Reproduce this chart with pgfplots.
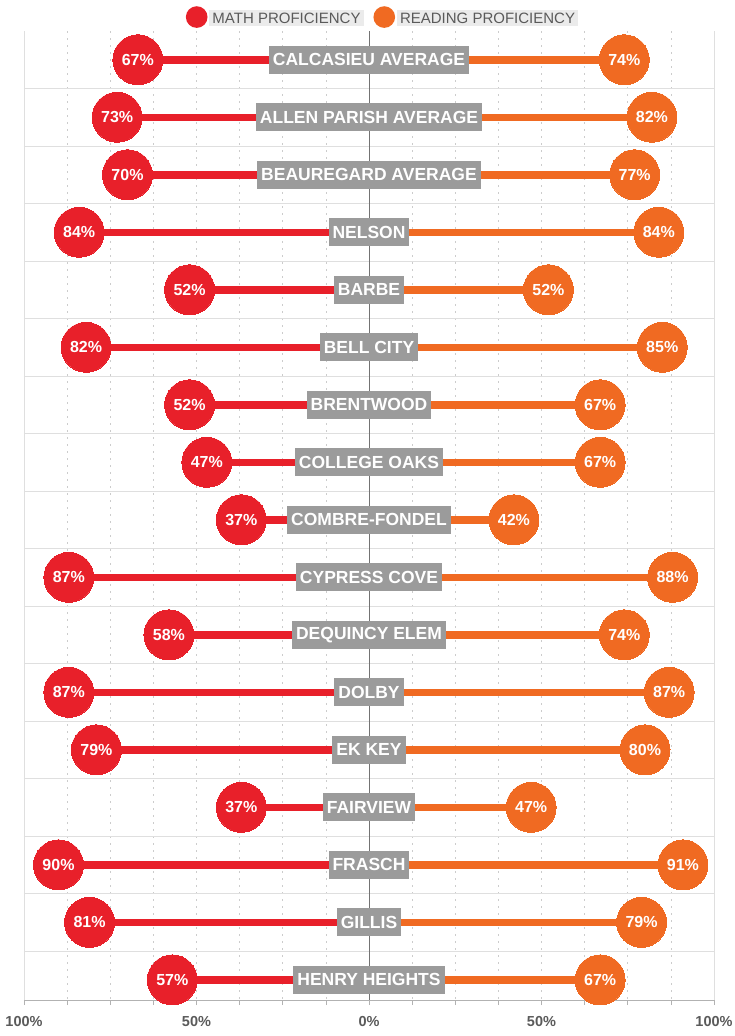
\documentclass[border=0pt]{standalone}
\usepackage{pgfplots}
\pgfplotsset{compat=1.18}
\usepackage{pgfplotstable}
\usepackage{fontspec}
\setmainfont{Liberation Sans}
\usetikzlibrary{calc}
\definecolor{mathred}{HTML}{E8202A}
\definecolor{readorange}{HTML}{F06A22}
\definecolor{labelgray}{HTML}{9B9B9B}
\definecolor{legbg}{HTML}{EBEBEB}
\definecolor{txtgray}{HTML}{5A5A5A}

\pgfplotstableread[col sep=comma]{
row,math,mathv,read,name
1,-67,67,74,CALCASIEU AVERAGE
2,-73,73,82,ALLEN PARISH AVERAGE
3,-70,70,77,BEAUREGARD AVERAGE
4,-84,84,84,NELSON
5,-52,52,52,BARBE
6,-82,82,85,BELL CITY
7,-52,52,67,BRENTWOOD
8,-47,47,67,COLLEGE OAKS
9,-37,37,42,COMBRE-FONDEL
10,-87,87,88,CYPRESS COVE
11,-58,58,74,DEQUINCY ELEM
12,-87,87,87,DOLBY
13,-79,79,80,EK KEY
14,-37,37,47,FAIRVIEW
15,-90,90,91,FRASCH
16,-81,81,79,GILLIS
17,-57,57,67,HENRY HEIGHTS
}\data

\begin{document}
\begin{tikzpicture}
\begin{axis}[
  /pgf/number format/assume math mode=true,
  scale only axis, width=690pt, height=969pt,
  xmin=-100, xmax=100, ymin=0.5, ymax=17.35, y dir=reverse,
  clip=false,
  axis x line*=bottom,
  x axis line style={gray!60, line width=0.8pt},
  y axis line style={gray!25, line width=0.8pt},
  xtick={-100,-50,50,100}, xticklabels={100\%,50\%,50\%,100\%},
  extra x ticks={0}, extra x tick labels={0\%},
  extra x tick style={grid=major, major grid style={black!55, line width=0.7pt}},
  minor xtick={-87.5,-75,-62.5,-50,-37.5,-25,-12.5,12.5,25,37.5,50,62.5,75,87.5},
  xminorgrids,
  minor grid style={gray!40, dash pattern=on 2pt off 5pt, line width=0.6pt},
  tick align=outside, major tick length=5pt, minor tick length=5pt,
  xtick style={gray!60, line width=0.6pt},
  ytick={1.5,2.5,...,16.5}, yticklabels={}, ymajorgrids,
  ytick style={draw=none},
  major grid style={gray!25, line width=0.8pt},
  xticklabel style={font=\bfseries\fontsize{14.5}{14.5}\selectfont, text=txtgray, yshift=-8pt},
  legend style={at={(0.5,1)}, anchor=south, xshift=14pt, yshift=3pt, draw=none, fill=none,
    legend columns=2, inner sep=0pt, font=\fontsize{15}{15}\selectfont, text=txtgray,
    /tikz/every even column/.append style={column sep=8pt}},
]
\addplot[xcomb, draw=mathred, line width=7.5pt, mark=*, mark size=25pt,
  mark options={fill=mathred, draw=mathred, line width=0pt},
  legend image code/.code={\fill[mathred] (0pt,0pt) circle (7pt);},
  point meta=explicit,
  nodes near coords={\pgfmathprintnumber{\pgfplotspointmeta}\%},
  nodes near coords align={center},
  every node near coord/.append style={anchor=center, text=white, font=\bfseries\fontsize{16}{16}\selectfont}]
  table[x=math, y=row, meta=mathv] {\data};
\addplot[xcomb, draw=readorange, line width=7.5pt, mark=*, mark size=25pt,
  mark options={fill=readorange, draw=readorange, line width=0pt},
  legend image code/.code={\fill[readorange] (0pt,0pt) circle (7pt);},
  point meta=explicit,
  nodes near coords={\pgfmathprintnumber{\pgfplotspointmeta}\%},
  nodes near coords align={center},
  every node near coord/.append style={anchor=center, text=white, font=\bfseries\fontsize{16}{16}\selectfont}]
  table[x=read, y=row, meta=read] {\data};
\addplot[draw=none, mark=none, forget plot,
  point meta=explicit symbolic,
  nodes near coords,
  nodes near coords align={center},
  every node near coord/.append style={anchor=center, fill=labelgray, text=white,
    font=\bfseries\fontsize{17.5}{17.5}\selectfont, inner xsep=4pt, inner ysep=0pt, minimum height=28pt}]
  table[x expr=0, y=row, meta=name] {\data};
\legend{\colorbox{legbg}{MATH PROFICIENCY}, \colorbox{legbg}{READING PROFICIENCY}}
\end{axis}
\pgfresetboundingbox
\path ($(current axis.south west)+(-24pt,-36pt)$) rectangle ($(current axis.north east)+(21pt,31pt)$);
\end{tikzpicture}
\end{document}
